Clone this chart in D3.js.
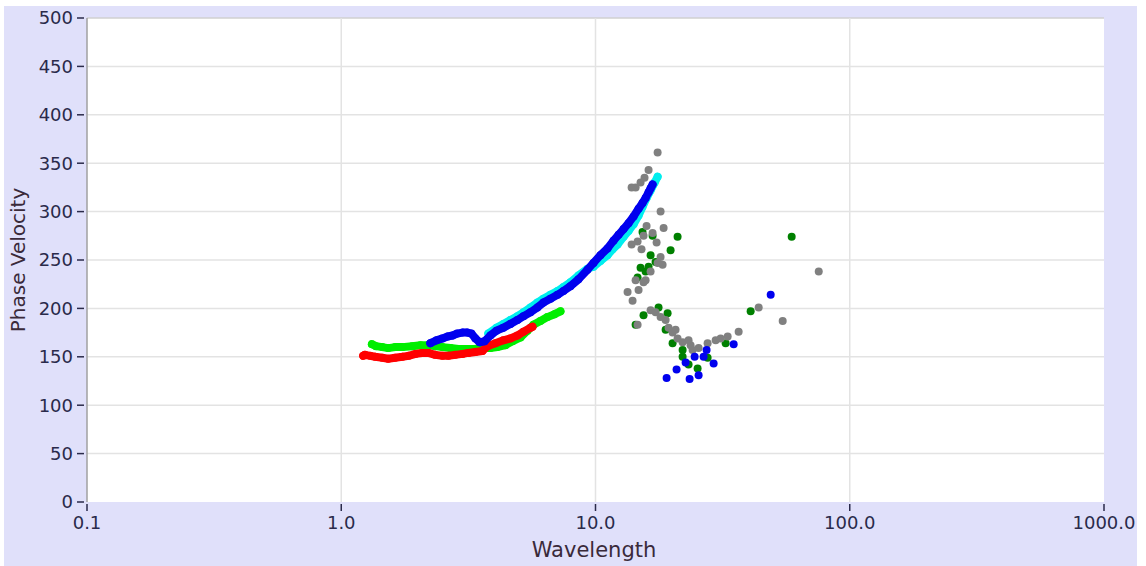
<!DOCTYPE html>
<html>
<head>
<meta charset="utf-8">
<script src="https://cdn.jsdelivr.net/npm/d3@7"></script>
<style>
body{margin:0;background:#ffffff;}
text{font-family:"DejaVu Sans",Verdana,sans-serif;}
</style>
</head>
<body>
<svg></svg>
<script>
//tick values and labels
var xTicks=[0.1,1,10,100,1000]
var xTickLabels=["0.1","1.0","10.0","100.0","1000.0"]
var yTicks=[0,50,100,150,200,250,300,350,400,450,500]

//dense curves (wavelength, phase velocity)
var redWave=[1.22,1.24,1.30,1.36,1.45,1.53,1.63,1.74,1.84,1.96,2.08,2.20,2.34,2.50,2.64,2.81,3.00,3.16,3.37,3.59,3.76,4.04,4.34,4.63,4.93,5.21,5.55,5.65]
var redVel=[151,152,151,150,149,148,149,150,151,153,154,154,152,151,151,152,153,154,155,156,161,164,167,169,172,176,180,181]

var limeWave=[1.32,1.37,1.45,1.53,1.63,1.74,1.90,2.05,2.20,2.34,2.50,2.69,2.89,3.11,3.34,3.59,3.86,4.11,4.42,4.71,5.07,5.40,5.70,6.07,6.47,6.90,7.28]
var limeVel=[163,161,160,159,160,160,161,162,162,161,160,159,158,158,158,159,159,160,162,166,170,177,183,187,191,194,197]

var cyanWave=[3.79,4.08,4.34,4.63,4.93,5.21,5.55,5.91,6.24,6.65,7.09,7.48,7.97,8.57,9.30,9.82,10.46,11.15,11.67,12.21,12.89,13.49,14.12,14.77,15.31,15.88,16.47,17.08,17.55]
var cyanVel=[174,180,184,188,192,196,201,206,210,214,218,222,227,234,241,243,249,255,261,266,274,280,287,296,305,314,322,330,336]

var blueWave=[2.24,2.37,2.50,2.62,2.74,2.86,3.00,3.13,3.25,3.37,3.50,3.66,3.86,4.08,4.34,4.63,4.93,5.21,5.55,5.91,6.24,6.65,7.09,7.48,7.97,8.57,9.30,9.82,10.46,11.15,11.77,12.32,12.89,13.49,14.12,14.77,15.31,15.74,16.17,16.47,16.77]
var blueVel=[164,167,169,171,172,174,175,175,174,169,165,166,172,177,180,184,188,192,196,201,206,210,214,218,223,230,240,247,255,262,270,276,282,288,295,303,309,314,320,324,328]

//scattered points
var greenWave=[17.70,15.45,14.38,19.21,18.87,20.10,22.01,22.01,23.23,25.21,27.60,32.50,40.76,59.10,21.03,19.74,16.47,16.17,15.04,14.64,15.31,16.77,17.23,15.74]
var greenVel=[201,193,183,195,178,164,157,150,142,138,149,164,197,274,274,260,255,243,242,232,279,275,248,238]

var grayWave=[17.55,16.17,15.59,15.04,14.38,13.87,18.03,18.53,15.88,16.77,15.45,14.64,13.87,15.17,17.39,18.03,18.36,17.55,16.47,15.74,14.38,15.45,14.77,13.37,13.99,14.64,16.47,17.23,18.03,18.87,19.38,20.65,20.10,21.03,22.01,23.23,23.66,24.09,25.44,27.60,29.69,31.06,33.10,36.56,43.83,54.48,75.51]
var grayVel=[361,343,335,330,325,325,300,283,285,278,275,269,266,261,268,253,245,247,238,229,229,227,219,217,208,183,198,196,191,188,180,178,175,169,165,167,162,157,159,164,167,169,171,176,201,187,238]

var blueScatWave=[48.87,34.95,29.15,25.44,23.45,19.04,20.84,22.62,24.54,26.62,27.35]
var blueScatVel=[214,163,143,131,127,128,137,144,150,150,157]

var zipUp=function(ws,vs)
{
    return ws.map(function(w,i){return {w:w,v:vs[i]};})
}

var drawCurve=function(target,pts,color,xScale,yScale)
{
    var lineGenerator=d3.line()
        .x(function(d){return xScale(d.w);})
        .y(function(d){return yScale(d.v);})
    target.append("path")
        .datum(pts)
        .attr("d",lineGenerator)
        .attr("fill","none")
        .attr("stroke",color)
        .attr("stroke-width",8)
        .attr("stroke-linecap","round")
        .attr("stroke-linejoin","round")
    drawDots(target,pts,color,xScale,yScale)
}

var drawDots=function(target,pts,color,xScale,yScale)
{
    target.append("g")
        .selectAll("circle")
        .data(pts)
        .enter()
        .append("circle")
        .attr("cx",function(d){return xScale(d.w);})
        .attr("cy",function(d){return yScale(d.v);})
        .attr("r",4)
        .attr("fill",color)
}

var makeTranslateString=function(x,y)
{
    return "translate("+x+","+y+")";
}

var initGraph=function()
{
    var screen={width:1146,height:566}
    var margins={left:87,right:42,top:18,bottom:64}
    var graph=
        {
            width:screen.width-margins.left-margins.right,
            height:screen.height-margins.top-margins.bottom
        }

    var svg=d3.select("svg")
        .attr("width",screen.width)
        .attr("height",screen.height)

    //lavender panel
    svg.append("rect")
        .attr("x",4).attr("y",6)
        .attr("width",1133).attr("height",560)
        .attr("fill","#e0e0fa")

    var target=svg.append("g")
        .attr("id","graph")
        .attr("transform",makeTranslateString(margins.left,margins.top))

    var xScale=d3.scaleLog()
        .domain([0.1,1000])
        .range([0,graph.width])
    var yScale=d3.scaleLinear()
        .domain([0,500])
        .range([graph.height,0])

    target.append("rect")
        .attr("width",graph.width)
        .attr("height",graph.height)
        .attr("fill","white")

    //grid
    target.append("g").selectAll("line")
        .data(yTicks.slice(1))
        .enter().append("line")
        .attr("x1",0).attr("x2",graph.width)
        .attr("y1",function(d){return yScale(d);})
        .attr("y2",function(d){return yScale(d);})
        .attr("stroke",function(d){return d==500?"#d0d0d0":"#e3e3e3";})
        .attr("stroke-width",1.5)
    target.append("g").selectAll("line")
        .data(xTicks.slice(1,4))
        .enter().append("line")
        .attr("x1",function(d){return xScale(d);})
        .attr("x2",function(d){return xScale(d);})
        .attr("y1",0).attr("y2",graph.height)
        .attr("stroke","#e3e3e3")
        .attr("stroke-width",1.5)

    target.append("line")
        .attr("x1",0).attr("x2",0)
        .attr("y1",0).attr("y2",graph.height)
        .attr("stroke","#a0a0a0")
        .attr("stroke-width",1.5)

    //data
    var marks=target.append("g")
    drawCurve(marks,zipUp(limeWave,limeVel),"#00ee00",xScale,yScale)
    drawCurve(marks,zipUp(redWave,redVel),"#ff0000",xScale,yScale)
    drawCurve(marks,zipUp(cyanWave,cyanVel),"#00eeee",xScale,yScale)
    drawCurve(marks,zipUp(blueWave,blueVel),"#0000ee",xScale,yScale)
    drawDots(marks,zipUp(greenWave,greenVel),"#008000",xScale,yScale)
    drawDots(marks,zipUp(grayWave,grayVel),"#808080",xScale,yScale)
    drawDots(marks,zipUp(blueScatWave,blueScatVel),"#0000ee",xScale,yScale)

    //y axis ticks and labels
    var yt=target.append("g").selectAll("g")
        .data(yTicks)
        .enter().append("g")
        .attr("transform",function(d){return makeTranslateString(0,yScale(d));})
    yt.append("line")
        .attr("x1",-10).attr("x2",-3)
        .attr("stroke","#2a2a4a").attr("stroke-width",1.5)
    yt.append("text")
        .attr("x",-14)
        .attr("dy","0.36em")
        .attr("text-anchor","end")
        .attr("font-size",18)
        .attr("fill","#2a2a4a")
        .text(function(d){return d;})

    //x axis ticks and labels
    var xt=target.append("g").selectAll("g")
        .data(xTicks)
        .enter().append("g")
        .attr("transform",function(d){return makeTranslateString(xScale(d),graph.height);})
    xt.append("line")
        .attr("y1",2).attr("y2",9)
        .attr("stroke","#2a2a4a").attr("stroke-width",1.5)
    xt.append("text")
        .attr("y",27)
        .attr("text-anchor","middle")
        .attr("font-size",18)
        .attr("fill","#2a2a4a")
        .text(function(d,i){return xTickLabels[i];})

    //axis titles
    svg.append("text")
        .attr("x",594).attr("y",557)
        .attr("text-anchor","middle")
        .attr("font-size",21)
        .attr("fill","#3a2a3a")
        .text("Wavelength")
    svg.append("text")
        .attr("transform","translate(25,260) rotate(-90)")
        .attr("text-anchor","middle")
        .attr("font-size",20)
        .attr("fill","#3a2a3a")
        .text("Phase Velocity")
}

initGraph()
</script>
</body>
</html>
